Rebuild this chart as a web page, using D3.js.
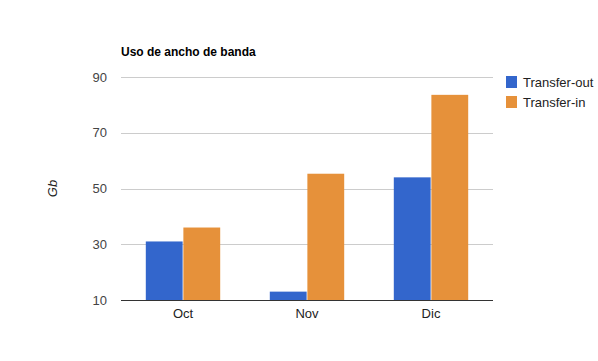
<!DOCTYPE html>
<html><head><meta charset="utf-8">
<script src="https://cdn.jsdelivr.net/npm/d3@7"></script>
<style>body{margin:0;background:#fff}svg{font-family:"Liberation Sans",Arial,sans-serif}</style>
</head><body><div id="c"></div>
<script>
const categories = ["Oct", "Nov", "Dic"];
const seriesNames = ["Transfer-out", "Transfer-in"];
const transferOut = [31, 13, 54];
const transferIn = [36, 55.3, 83.6];
const yTicks = [10, 30, 50, 70, 90];
const colors = ["#3366cc", "#e6913a"];

const W = 598, H = 361;
const m = {l: 121, r: 105, t: 77, b: 61};
const svg = d3.select("#c").append("svg").attr("width", W).attr("height", H);
const x = d3.scaleBand().domain(categories).range([m.l, W - m.r]).paddingInner(0.4).paddingOuter(0.2);
const xs = d3.scaleBand().domain(seriesNames).range([0, x.bandwidth()]).paddingInner(0.02);
const y = d3.scaleLinear().domain([10, 90]).range([H - m.b, m.t]);

// grid
const ga = svg.append("g").attr("transform", `translate(${m.l},0)`)
  .call(d3.axisLeft(y).tickValues(yTicks).tickSize(-(W - m.r - m.l)).tickPadding(14));
ga.select(".domain").remove();
ga.selectAll(".tick line").attr("stroke", "#cccccc").attr("shape-rendering", "crispEdges");
ga.selectAll(".tick text").attr("fill", "#444").attr("font-size", 13).attr("font-family", "Liberation Sans, Arial");

const data = categories.map((c, i) => ({c, v: [transferOut[i], transferIn[i]]}));
const g = svg.append("g");
data.forEach(d => {
  d.v.forEach((v, j) => {
    g.append("rect")
      .attr("x", x(d.c) + xs(seriesNames[j]))
      .attr("width", xs.bandwidth())
      .attr("y", y(v))
      .attr("height", y(10) - y(v))
      .attr("fill", colors[j]);
  });
});

// baseline
svg.append("line").attr("x1", m.l).attr("x2", W - m.r).attr("y1", y(10)).attr("y2", y(10))
  .attr("stroke", "#333").attr("shape-rendering", "crispEdges");

// x axis labels
const xa = svg.append("g").attr("transform", `translate(0,${y(10)})`)
  .call(d3.axisBottom(x).tickSize(0).tickPadding(9));
xa.select(".domain").remove();
xa.selectAll("text").attr("fill", "#222").attr("font-size", 13).attr("font-family", "Liberation Sans, Arial");

// title
svg.append("text").attr("x", m.l).attr("y", 56).text("Uso de ancho de banda")
  .attr("font-weight", "bold").attr("font-size", 12).attr("fill", "#000");

// y label
svg.append("text").attr("transform", `translate(57,${(y(10) + y(90)) / 2}) rotate(-90)`)
  .attr("text-anchor", "middle").attr("font-style", "italic").attr("font-size", 13)
  .attr("fill", "#222").text("Gb");

// legend
const lg = svg.append("g").attr("transform", "translate(506,76)");
seriesNames.forEach((s, i) => {
  lg.append("rect").attr("x", 0).attr("y", i * 20).attr("width", 11).attr("height", 12).attr("fill", colors[i]);
  lg.append("text").attr("x", 17).attr("y", i * 20 + 11).attr("font-size", 13).attr("fill", "#222").text(s);
});
</script></body></html>
